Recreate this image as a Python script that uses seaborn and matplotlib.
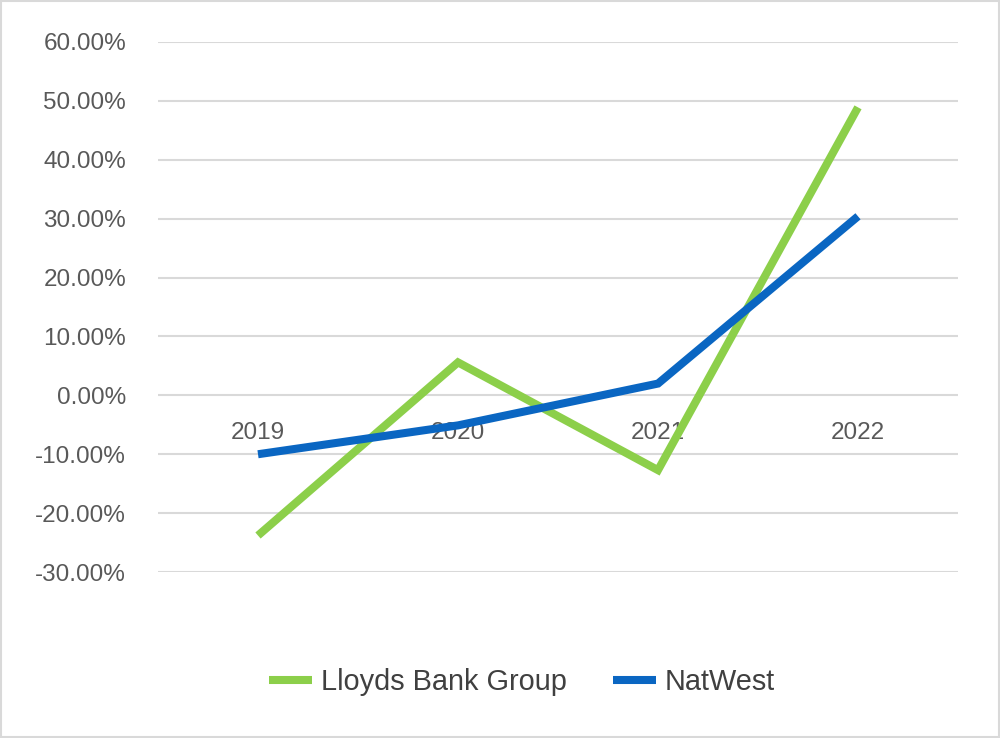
import pandas as pd
import matplotlib.pyplot as plt
import matplotlib.ticker as mticker
import seaborn as sns

# Data
years = ["2019", "2020", "2021", "2022"]
lloyds = [-0.238, 0.056, -0.127, 0.489]
natwest = [-0.100, -0.051, 0.020, 0.304]
series_names = ["Lloyds Bank Group", "NatWest"]
colors = ["#8CCF4A", "#0A66C2"]

df = pd.DataFrame({
    "year": years * 2,
    "value": lloyds + natwest,
    "bank": [series_names[0]] * 4 + [series_names[1]] * 4,
})

sns.set_style("white")
plt.rcParams["font.family"] = ["Liberation Sans", "DejaVu Sans"]

fig = plt.figure(figsize=(10, 7.38), dpi=100)
ax = fig.add_axes([0.158, 0.2249, 0.8, 0.7182])

sns.lineplot(data=df, x="year", y="value", hue="bank", palette=colors,
             linewidth=5.8, sort=False, ax=ax,
             solid_capstyle="butt", solid_joinstyle="miter")

ax.set_xlim(-0.5, 3.5)
ax.set_ylim(-0.3, 0.6)
ax.set_yticks([i / 10 for i in range(-3, 7)])
ax.yaxis.set_major_formatter(mticker.FuncFormatter(lambda v, p: f"{v * 100:.2f}%"))
ax.grid(axis="y", color="#D9D9D9", linewidth=1.5)
ax.set_axisbelow(True)

for s in ax.spines.values():
    s.set_visible(False)
ax.spines["bottom"].set_position(("data", 0))

ax.tick_params(axis="y", length=0, pad=23, labelsize=17.5, labelcolor="#595959")
ax.tick_params(axis="x", length=0, pad=19, labelsize=17.5, labelcolor="#595959")
ax.set_xlabel("")
ax.set_ylabel("")

leg = ax.legend(loc="center", bbox_to_anchor=(0.522, 0.076), bbox_transform=fig.transFigure,
                ncol=2, frameon=False, fontsize=20.8, handlelength=1.49, handletextpad=0.31,
                columnspacing=1.6, labelcolor="#404040")
for h in leg.get_lines():
    h.set_solid_capstyle("butt")

fig.patches.append(plt.Rectangle((0.001, 0.001), 0.998, 0.998, transform=fig.transFigure,
                                 fill=False, edgecolor="#D9D9D9", linewidth=1.5))

fig.savefig("out.png", dpi=100)
